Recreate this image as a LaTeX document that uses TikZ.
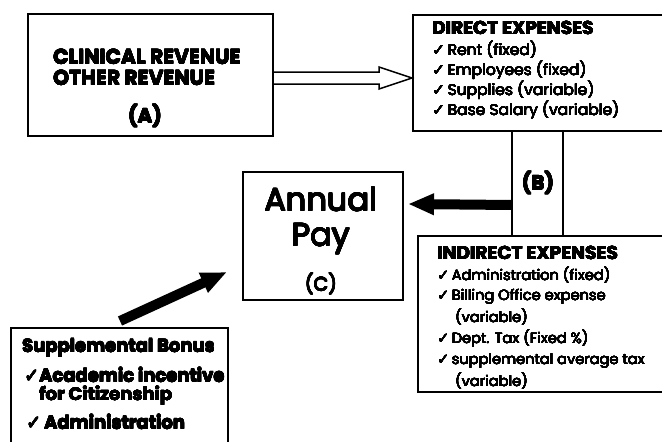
\documentclass[tikz,border=0pt]{standalone}
\usepackage{fontspec}
\usepackage[copies]{contour}
\setmainfont{Poppins}
\newfontfamily\chk{DejaVu Sans}
\usetikzlibrary{arrows.meta,calc}
\contournumber{16}
\newcommand{\thk}[1]{{\contourlength{0.14pt}\contour{black}{#1}}}
\newcommand{\annthk}[1]{{\contourlength{0.35pt}\contour{black}{#1}}}
\newcommand{\hvy}[1]{{\contourlength{0.2pt}\contour{black}{#1}}}
\newcommand{\ck}{{\chk ✓}}
\tikzset{
  box/.style={draw, line width=2pt, inner sep=0pt},
  txt/.style={inner sep=0pt, anchor=west},
  bigarrow/.style={line width=10pt, -{Triangle[length=26pt,width=20pt]}},
  thin/.style={line width=1.3pt},
}
\begin{document}
\begin{tikzpicture}[x=1pt,y=-1pt]
\useasboundingbox (0,0) rectangle (662,442);
% boxes
\node[box, minimum width=245pt, minimum height=122pt] (A) at (150.5,75) {};
\node[box, minimum width=267pt, minimum height=116pt] (D) at (546.5,73) {};
\node[box, minimum width=262pt, minimum height=156pt] (I) at (549,314) {};
\node[box, minimum width=160pt, minimum height=128pt] (C) at (323,236) {};
\node[box, minimum width=217pt, minimum height=132pt] (S) at (119.5,394) {};
% texts box A
\node[txt] (a1) at (53,57) {\fontsize{20.3}{20.3}\selectfont\bfseries\hvy{CLINICAL REVENUE}};
\node[txt] (a2) at (53,78) {\fontsize{20.3}{20.3}\selectfont\bfseries\hvy{OTHER REVENUE}};
\node[inner sep=0pt] (a3) at (145,116) {\fontsize{20}{20}\selectfont\bfseries\hvy{(A)}};
% direct
\node[txt] (d0) at (432,28) {\fontsize{18.5}{18.5}\selectfont\bfseries\hvy{DIRECT EXPENSES}};
\node[txt] (d1) at (432,50) {\fontsize{15.5}{15.5}\selectfont\thk{\ck\,Rent (fixed)}};
\node[txt] (d2) at (432,70) {\fontsize{15.5}{15.5}\selectfont\thk{\ck\,Employees (fixed)}};
\node[txt] (d3) at (432,90) {\fontsize{15.5}{15.5}\selectfont\thk{\ck\,Supplies (variable)}};
\node[txt] (d4) at (432,110) {\fontsize{15.5}{15.5}\selectfont\thk{\ck\,Base Salary (variable)}};
% B
\node[inner sep=0pt] (b) at (538,183) {\fontsize{20}{20}\selectfont\bfseries\hvy{(B)}};
% C
\node[inner sep=0pt, align=center, font=\fontsize{32}{35}\selectfont] (c1) at (321,221) {\annthk{Annual}\\\annthk{Pay}};
\node[inner sep=0pt] (c3) at (321,284) {\fontsize{19}{19}\selectfont\annthk{(C)}};
% indirect
\node[txt] (i0) at (437,253) {\fontsize{18.5}{18.5}\selectfont\bfseries\hvy{INDIRECT EXPENSES}};
\node[txt] (i1) at (437,275) {\fontsize{14.6}{14.6}\selectfont\thk{\ck\,Administration (fixed)}};
\node[txt] (i2) at (437,297) {\fontsize{14.6}{14.6}\selectfont\thk{\ck\,Billing Office expense}};
\node[txt] (i3) at (455,317) {\fontsize{14.6}{14.6}\selectfont\thk{(variable)}};
\node[txt] (i4) at (437,339) {\fontsize{14.6}{14.6}\selectfont\thk{\ck\,Dept. Tax (Fixed \%)}};
\node[txt] (i5) at (437,361) {\fontsize{14.6}{14.6}\selectfont\thk{\ck\,supplemental average tax}};
\node[txt] (i6) at (455,381) {\fontsize{14.6}{14.6}\selectfont\thk{(variable)}};
% supplemental
\node[txt] (s0) at (22,348) {\fontsize{18}{18}\selectfont\bfseries\hvy{Supplemental Bonus}};
\node[txt] (s1) at (24,375) {\fontsize{18}{18}\selectfont\bfseries\hvy{\ck Academic incentive}};
\node[txt] (s2) at (39,396) {\fontsize{18}{18}\selectfont\bfseries\hvy{for Citizenship}};
\node[txt] (s3) at (26,422) {\fontsize{18}{18}\selectfont\bfseries\hvy{\ck\,Administration}};
% connectors
\coordinate (bl) at ($(D.south west)+(100,0)$);
\coordinate (br) at ($(D.south west)+(151,0)$);
\draw[thin] (bl) -- (bl |- I.north);
\draw[thin] (br) -- (br |- I.north);
\draw[bigarrow] ($(bl)+(0,73)$) -- ($(C.east)+(4,-32)$);
\draw[line width=1.5pt, line join=miter]
  ($(A.east)+(0,-3)$) -- ($(A.east)+(105,-3)$) -- ($(A.east)+(105,-8)$) -- ($(D.west)+(0,5)$)
  -- ($(A.east)+(105,14)$) -- ($(A.east)+(105,9)$) -- ($(A.east)+(0,9)$);
\draw[bigarrow] (S.north) ++(0.5,-6) coordinate (st) (st) -- ($(C.west)+(-15,36)$);
\end{tikzpicture}
\end{document}
